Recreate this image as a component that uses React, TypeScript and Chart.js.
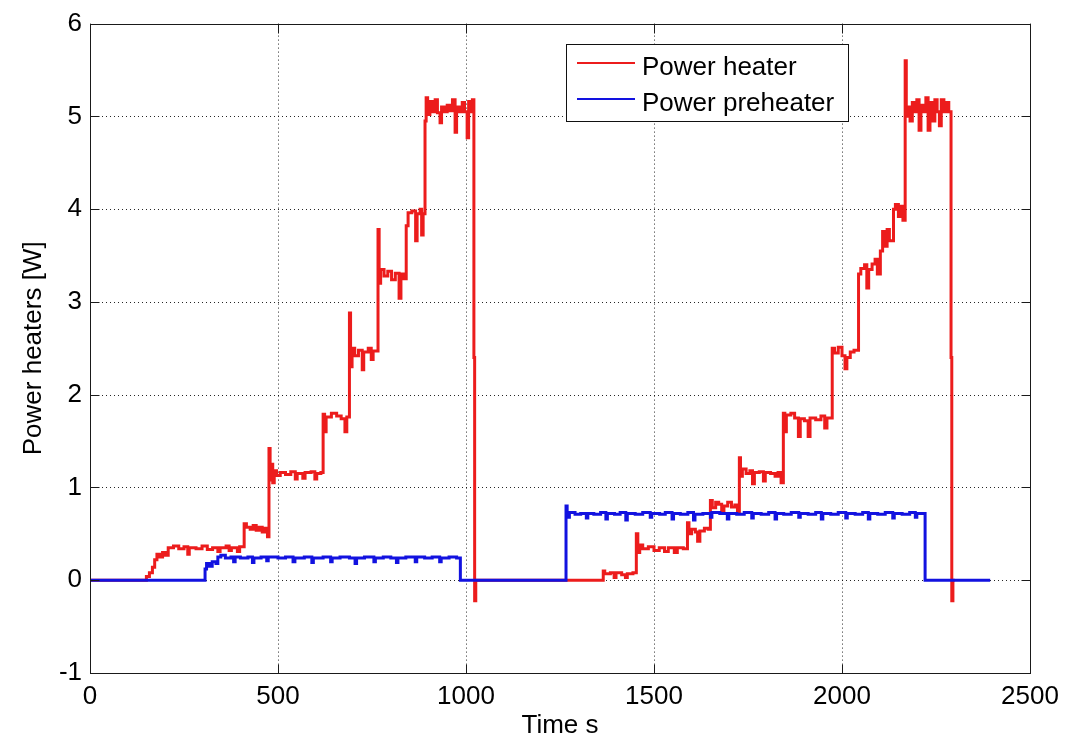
import React, { useEffect, useRef } from "react";
import { Chart, registerables } from "chart.js";

Chart.register(...registerables);

const FONT = '"Liberation Sans", Arial, Helvetica, sans-serif';

const xTickValues = [0, 500, 1000, 1500, 2000, 2500];
const yTickValues = [-1, 0, 1, 2, 3, 4, 5, 6];
const seriesNames = ["Power heater", "Power preheater"];
const seriesColors = ["#ec1c1c", "#1212e0"];
const xTitle = "Time s";
const yTitle = "Power heaters [W]";

const heaterTime = [
  0, 146, 150, 158, 166, 172, 178, 186, 193, 200, 208, 222, 236, 250, 260, 264, 282, 298, 312, 326,
  340, 346, 362, 370, 376, 392, 398, 410, 416, 426, 434, 442, 450, 458, 464, 472, 476, 479, 482, 486,
  490, 496, 506, 520, 534, 546, 551, 566, 572, 588, 598, 603, 614, 620, 624, 628, 642, 656, 668, 678,
  683, 690, 693, 697, 704, 714, 724, 728, 740, 748, 753, 766, 769, 773, 782, 792, 802, 812, 822, 827,
  835, 841, 846, 856, 866, 870, 878, 882, 886, 891, 894, 898, 904, 910, 918, 924, 931, 935, 942, 950,
  958, 964, 971, 975, 982, 990, 996, 1003, 1007, 1013, 1017, 1021, 1023, 1026,
  1365, 1369, 1384, 1394, 1399, 1414, 1424, 1429, 1444, 1453, 1457, 1462, 1470, 1485, 1500, 1514, 1528, 1538, 1554, 1562,
  1578, 1589, 1593, 1600, 1610, 1616, 1622, 1634, 1644, 1650, 1655, 1664, 1672, 1680, 1686, 1696, 1706, 1715, 1722, 1727,
  1730, 1735, 1745, 1755, 1762, 1767, 1780, 1791, 1796, 1810, 1822, 1830, 1838, 1844, 1848, 1852, 1864, 1874, 1884, 1889,
  1900, 1910, 1915, 1930, 1944, 1954, 1960, 1974, 1980, 1990, 2000, 2008, 2013, 2022, 2032, 2044, 2050, 2060, 2066, 2071,
  2080, 2088, 2094, 2102, 2108, 2114, 2120, 2126, 2137, 2142, 2150, 2156, 2162, 2168, 2171, 2175, 2181, 2187, 2193, 2199,
  2205, 2210, 2217, 2223, 2229, 2234, 2241, 2247, 2253, 2259, 2264, 2271, 2277, 2284, 2290, 2292, 2295, 2300,
];

const heaterPower = [
  0, 0, 0.04, 0.08, 0.14, 0.22, 0.28, 0.25, 0.3, 0.27, 0.35, 0.37, 0.34, 0.36, 0.28, 0.35, 0.34, 0.37, 0.33, 0.35,
  0.31, 0.35, 0.37, 0.32, 0.35, 0.31, 0.36, 0.61, 0.57, 0.55, 0.59, 0.54, 0.57, 0.52, 0.56, 0.47, 1.42, 1.08, 1.25, 1.05,
  1.18, 1.13, 1.16, 1.14, 1.17, 1.09, 1.15, 1.1, 1.16, 1.17, 1.09, 1.15, 1.16, 1.79, 1.6, 1.76, 1.8, 1.77, 1.74, 1.6,
  1.76, 2.88, 2.3, 2.5, 2.42, 2.48, 2.27, 2.46, 2.5, 2.38, 2.47, 3.78, 3.2, 3.35, 3.28, 3.33, 3.24, 3.31, 3.04, 3.3,
  3.25, 3.82, 3.96, 3.98, 3.66, 3.95, 4.0, 3.72, 3.95, 4.95, 5.2, 5.02, 5.16, 5.05, 5.18, 5.04, 4.93, 5.1, 5.05, 5.12,
  5.06, 5.18, 4.83, 5.1, 5.05, 5.15, 5.05, 4.77, 5.16, 5.05, 5.18, 2.4, -0.22, 0,
  0.1, 0.07, 0.08, 0.03, 0.08, 0.06, 0.03, 0.07, 0.08, 0.5, 0.3, 0.38, 0.34, 0.36, 0.32, 0.35, 0.31, 0.35, 0.3, 0.35,
  0.34, 0.62, 0.5, 0.55, 0.52, 0.42, 0.53, 0.56, 0.55, 0.86, 0.78, 0.84, 0.82, 0.74, 0.8, 0.84, 0.79, 0.81, 0.72, 1.32,
  1.12, 1.2, 1.15, 1.18, 1.04, 1.16, 1.17, 1.07, 1.16, 1.15, 1.12, 1.16, 1.05, 1.8, 1.6, 1.78, 1.8, 1.75, 1.55, 1.74,
  1.72, 1.55, 1.75, 1.73, 1.77, 1.64, 1.75, 2.5, 2.45, 2.51, 2.42, 2.28, 2.4, 2.46, 2.48, 3.3, 3.36, 3.4, 3.15, 3.35,
  3.41, 3.46, 3.3, 3.55, 3.76, 3.6, 3.78, 3.66, 4.0, 4.05, 3.92, 4.03, 3.88, 5.6, 5.0, 5.1, 4.95, 5.15, 5.05, 5.18,
  4.85, 5.12, 5.05, 5.2, 4.85, 5.15, 4.95, 5.18, 5.05, 4.9, 5.18, 5.05, 5.15, 5.05, 2.4, -0.22, 0, 0,
];

const preheaterTime = [
  0, 306, 310, 318, 325, 335, 340, 348, 360, 375, 382, 386, 400, 420, 432, 436, 455, 470, 474, 500,
  520, 540, 545, 570, 590, 594, 620, 640, 644, 665, 690, 705, 709, 730, 755, 759, 780, 800, 815, 819,
  840, 865, 869, 890, 910, 930, 934, 955, 975, 985,
  1266, 1269, 1275, 1290, 1305, 1320, 1324, 1340, 1358, 1372, 1376, 1395, 1410, 1425, 1429, 1450, 1470, 1490, 1494, 1515,
  1530, 1548, 1552, 1570, 1590, 1605, 1609, 1630, 1650, 1654, 1675, 1695, 1699, 1720, 1740, 1760, 1764, 1785, 1805, 1822,
  1826, 1845, 1865, 1885, 1889, 1910, 1930, 1945, 1949, 1970, 1990, 2010, 2014, 2035, 2055, 2070, 2074, 2095, 2115, 2135,
  2139, 2160, 2180, 2195, 2199, 2215, 2221, 2394,
];

const preheaterPower = [
  0, 0.12, 0.18, 0.15, 0.2, 0.18, 0.25, 0.27, 0.24, 0.25, 0.2, 0.25, 0.24, 0.25, 0.19, 0.24, 0.25, 0.21, 0.25, 0.24,
  0.25, 0.2, 0.24, 0.25, 0.19, 0.24, 0.25, 0.2, 0.24, 0.25, 0.24, 0.18, 0.24, 0.25, 0.2, 0.24, 0.25, 0.24, 0.19, 0.24,
  0.25, 0.2, 0.25, 0.24, 0.25, 0.2, 0.24, 0.25, 0.24, 0,
  0.8, 0.68, 0.73, 0.71, 0.72, 0.67, 0.72, 0.71, 0.73, 0.66, 0.72, 0.71, 0.73, 0.65, 0.72, 0.71, 0.73, 0.68, 0.72, 0.71,
  0.73, 0.66, 0.72, 0.71, 0.73, 0.65, 0.71, 0.72, 0.68, 0.73, 0.72, 0.66, 0.72, 0.71, 0.73, 0.67, 0.72, 0.71, 0.73, 0.66,
  0.72, 0.71, 0.73, 0.68, 0.72, 0.71, 0.73, 0.66, 0.72, 0.71, 0.73, 0.67, 0.72, 0.71, 0.73, 0.66, 0.72, 0.71, 0.73, 0.67,
  0.72, 0.71, 0.73, 0.68, 0.72, 0.72, 0, 0,
];

const framePlugin = {
  id: "matlabFrame",
  beforeDatasetsDraw(chart: any) {
    const { ctx, chartArea: a, scales } = chart;
    ctx.save();
    ctx.strokeStyle = "rgba(0,0,0,0.85)";
    ctx.lineWidth = 1;
    ctx.setLineDash([1, 3]);
    xTickValues.forEach((v) => {
      const x = Math.round(scales.x.getPixelForValue(v)) + 0.5;
      ctx.beginPath();
      ctx.moveTo(x, a.top);
      ctx.lineTo(x, a.bottom);
      ctx.stroke();
    });
    yTickValues.forEach((v) => {
      const y = Math.round(scales.y.getPixelForValue(v)) + 0.5;
      ctx.beginPath();
      ctx.moveTo(a.left, y);
      ctx.lineTo(a.right, y);
      ctx.stroke();
    });
    ctx.restore();
  },
  afterDatasetsDraw(chart: any) {
    const { ctx, chartArea: a, scales } = chart;
    const L = Math.round(a.left) + 0.5;
    const R = Math.round(a.right) + 0.5;
    const T = Math.round(a.top) + 0.5;
    const B = Math.round(a.bottom) + 0.5;
    const tl = 9;
    ctx.save();
    ctx.strokeStyle = "#1a1a1a";
    ctx.lineWidth = 1;
    ctx.setLineDash([]);
    ctx.strokeRect(L, T, R - L, B - T);
    ctx.beginPath();
    xTickValues.forEach((v) => {
      const x = Math.round(scales.x.getPixelForValue(v)) + 0.5;
      ctx.moveTo(x, B);
      ctx.lineTo(x, B - tl);
      ctx.moveTo(x, T);
      ctx.lineTo(x, T + tl);
    });
    yTickValues.forEach((v) => {
      const y = Math.round(scales.y.getPixelForValue(v)) + 0.5;
      ctx.moveTo(L, y);
      ctx.lineTo(L + tl, y);
      ctx.moveTo(R, y);
      ctx.lineTo(R - tl, y);
    });
    ctx.stroke();

    // legend box
    const bx = 566.5, by = 44.5, bw = 282, bh = 77;
    ctx.fillStyle = "#ffffff";
    ctx.fillRect(bx, by, bw, bh);
    ctx.strokeStyle = "#111";
    ctx.strokeRect(bx, by, bw, bh);
    const rows = [63, 99];
    const baselines = [75, 111];
    seriesNames.forEach((name, i) => {
      ctx.strokeStyle = seriesColors[i];
      ctx.lineWidth = 2;
      ctx.beginPath();
      ctx.moveTo(577, rows[i]);
      ctx.lineTo(635, rows[i]);
      ctx.stroke();
      ctx.fillStyle = "#000";
      ctx.font = `26px ${FONT}`;
      ctx.textAlign = "left";
      ctx.textBaseline = "alphabetic";
      ctx.fillText(name, 642, baselines[i]);
    });
    ctx.restore();
  },
};

export default function App() {
  const ref = useRef<HTMLCanvasElement | null>(null);

  useEffect(() => {
    if (!ref.current) return;
    const heaterData = heaterTime.map((t, i) => ({ x: t, y: heaterPower[i] }));
    const preheaterData = preheaterTime.map((t, i) => ({ x: t, y: preheaterPower[i] }));
    const tickFont = { family: FONT, size: 26 };
    const chart = new Chart(ref.current, {
      type: "line",
      data: {
        datasets: [
          {
            label: seriesNames[0],
            data: heaterData,
            borderColor: seriesColors[0],
            backgroundColor: seriesColors[0],
            borderWidth: 3,
            pointRadius: 0,
            stepped: "before",
            fill: false,
            order: 1,
          },
          {
            label: seriesNames[1],
            data: preheaterData,
            borderColor: seriesColors[1],
            backgroundColor: seriesColors[1],
            borderWidth: 3,
            pointRadius: 0,
            stepped: "before",
            fill: false,
            order: 0,
          },
        ],
      },
      options: {
        responsive: false,
        animation: false,
        events: [],
        layout: { padding: { top: 17, right: 43, left: 0, bottom: 0 } },
        plugins: { legend: { display: false }, tooltip: { enabled: false } },
        scales: {
          x: {
            type: "linear",
            min: 0,
            max: 2500,
            afterBuildTicks: (s: any) => {
              s.ticks = xTickValues.map((v) => ({ value: v }));
            },
            grid: { display: false, drawTicks: false },
            border: { display: false },
            ticks: {
              font: tickFont,
              color: "#000",
              padding: 8,
              maxRotation: 0,
              autoSkip: false,
              callback: (v: any) => String(v),
            },
            title: {
              display: true,
              text: xTitle,
              color: "#000",
              font: { family: FONT, size: 26 },
              padding: { top: 0, bottom: 0 },
            },
            afterFit: (s: any) => {
              s.height = 68;
            },
          },
          y: {
            type: "linear",
            min: -1,
            max: 6,
            afterBuildTicks: (s: any) => {
              s.ticks = yTickValues.map((v) => ({ value: v }));
            },
            grid: { display: false, drawTicks: false },
            border: { display: false },
            ticks: {
              font: tickFont,
              color: "#000",
              padding: 8,
              autoSkip: false,
              callback: (v: any) => String(v),
            },
            title: {
              display: true,
              text: yTitle,
              color: "#000",
              font: { family: FONT, size: 26 },
              padding: { top: 18, bottom: 0 },
            },
            afterFit: (s: any) => {
              s.width = 90;
            },
          },
        },
      },
      plugins: [framePlugin],
    } as any);
    return () => chart.destroy();
  }, []);

  return (
    <div style={{ position: "fixed", left: 0, top: 0, width: 1073, height: 741, background: "#fff" }}>
      <canvas ref={ref} width={1073} height={741} style={{ display: "block" }} />
    </div>
  );
}
